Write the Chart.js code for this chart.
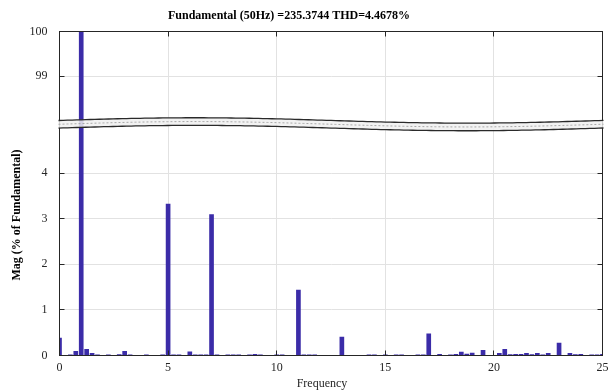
<!DOCTYPE html>
<html>
<head>
<meta charset="utf-8">
<script src="https://cdn.jsdelivr.net/npm/chart.js@4.4.0/dist/chart.umd.min.js"></script>
<style>
  html, body { margin: 0; padding: 0; background: #fff; }
</style>
</head>
<body>
<canvas id="fft" width="615" height="392"></canvas>
<script>
const chartTitle = 'Fundamental (50Hz) =235.3744 THD=4.4678%';
const xTitle = 'Frequency';
const yTitle = 'Mag (% of Fundamental)';

// harmonic order of each FFT bin
const harmonic = [
  0, 0.25, 0.5, 0.75, 1, 1.25, 1.5, 1.75, 2, 2.25, 2.5, 2.75, 3, 3.25, 3.5, 3.75,
  4, 4.25, 4.5, 4.75, 5, 5.25, 5.5, 5.75, 6, 6.25, 6.5, 6.75, 7, 7.25, 7.5, 7.75,
  8, 8.25, 8.5, 8.75, 9, 9.25, 9.5, 9.75, 10, 10.25, 10.5, 10.75, 11, 11.25, 11.5, 11.75,
  12, 12.25, 12.5, 12.75, 13, 13.25, 13.5, 13.75, 14, 14.25, 14.5, 14.75, 15, 15.25, 15.5, 15.75,
  16, 16.25, 16.5, 16.75, 17, 17.25, 17.5, 17.75, 18, 18.25, 18.5, 18.75, 19, 19.25, 19.5, 19.75,
  20, 20.25, 20.5, 20.75, 21, 21.25, 21.5, 21.75, 22, 22.25, 22.5, 22.75, 23, 23.25, 23.5, 23.75,
  24, 24.25, 24.5, 24.75, 25
];

// magnitude in % of fundamental
const mag = [
  0.39, 0.01, 0.02, 0.10, 100, 0.14, 0.055, 0.02, 0.01, 0.02, 0.01, 0.03, 0.10, 0.02, 0.01, 0.01,
  0.02, 0.01, 0.01, 0.02, 3.33, 0.02, 0.02, 0.01, 0.085, 0.02, 0.02, 0.02, 3.10, 0.02, 0.01, 0.02,
  0.02, 0.02, 0.01, 0.02, 0.035, 0.02, 0.01, 0.01, 0.02, 0.02, 0.01, 0.01, 1.44, 0.02, 0.02, 0.02,
  0.01, 0.01, 0.01, 0.01, 0.41, 0.01, 0.01, 0.01, 0.01, 0.02, 0.02, 0.01, 0.02, 0.01, 0.02, 0.02,
  0.01, 0.01, 0.02, 0.02, 0.48, 0.01, 0.035, 0.01, 0.02, 0.035, 0.08, 0.04, 0.06, 0.01, 0.12, 0.01,
  0.01, 0.055, 0.14, 0.025, 0.035, 0.035, 0.055, 0.025, 0.055, 0.02, 0.055, 0.01, 0.28, 0.01, 0.055, 0.025,
  0.035, 0.01, 0.02, 0.02, 0.035
];

const freqTicks = [0, 5, 10, 15, 20, 25];
const lowTicks = [0, 1, 2, 3, 4];
const highTicks = [99, 100];

const serif = '"Liberation Serif", "Times New Roman", serif';
const ink = '#262626';
const gridColor = '#e2e2e2';
const barColor = '#3b2ca8';

const toTicks = list => scale => { scale.ticks = list.map(v => ({ value: v })); };

const frame = {
  id: 'frame',
  afterDatasetsDraw(chart) {
    const { ctx, chartArea: a, scales } = chart;
    const x = scales.x, lo = scales.y, hi = scales.yHigh;
    ctx.save();

    // axes box
    ctx.strokeStyle = ink;
    ctx.lineWidth = 1;
    ctx.strokeRect(a.left, a.top, a.right - a.left, a.bottom - a.top);

    // ticks pointing inward, matlab style
    ctx.beginPath();
    freqTicks.forEach(v => {
      const px = Math.round(x.getPixelForValue(v) - 0.5) + 0.5;
      ctx.moveTo(px, a.bottom); ctx.lineTo(px, a.bottom - 5);
      ctx.moveTo(px, a.top); ctx.lineTo(px, a.top + 5);
    });
    [[lo, lowTicks], [hi, highTicks]].forEach(([s, list]) => {
      list.forEach(v => {
        const py = Math.round(s.getPixelForValue(v) - 0.5) + 0.5;
        ctx.moveTo(a.left, py); ctx.lineTo(a.left + 5, py);
        ctx.moveTo(a.right, py); ctx.lineTo(a.right - 5, py);
      });
    });
    ctx.stroke();

    // axis break band
    const mid = (hi.bottom + lo.top) / 2;
    const w = a.right - a.left;
    const wave = px => mid - 2.7 * Math.sin(2 * Math.PI * (px - a.left) / w);
    const n = 120;
    const xs = [];
    for (let i = 0; i <= n; i++) xs.push(a.left - 1 + (w + 2) * i / n);

    ctx.beginPath();
    xs.forEach((px, i) => i ? ctx.lineTo(px, wave(px) - 3.8) : ctx.moveTo(px, wave(px) - 3.8));
    xs.slice().reverse().forEach(px => ctx.lineTo(px, wave(px) + 3.8));
    ctx.closePath();
    ctx.fillStyle = 'rgba(240,240,240,0.85)';
    ctx.fill();

    ctx.beginPath();
    xs.forEach((px, i) => i ? ctx.lineTo(px, wave(px)) : ctx.moveTo(px, wave(px)));
    ctx.setLineDash([2, 2]);
    ctx.strokeStyle = '#a8a8a8';
    ctx.lineWidth = 1;
    ctx.stroke();
    ctx.setLineDash([]);

    ctx.strokeStyle = '#2a2a2a';
    ctx.lineWidth = 1.3;
    [-3.8, 3.8].forEach(off => {
      ctx.beginPath();
      xs.forEach((px, i) => i ? ctx.lineTo(px, wave(px) + off) : ctx.moveTo(px, wave(px) + off));
      ctx.stroke();
    });
    ctx.restore();
  },
  afterDraw(chart) {
    const { ctx } = chart;
    ctx.save();
    ctx.fillStyle = '#000';
    ctx.textAlign = 'center';
    ctx.textBaseline = 'middle';
    ctx.font = 'bold 12px ' + serif;
    ctx.fillText(chartTitle, 289, 16);
    ctx.save();
    ctx.translate(17, 215);
    ctx.rotate(-Math.PI / 2);
    ctx.fillText(yTitle, 0, 0);
    ctx.restore();
    ctx.fillStyle = ink;
    ctx.font = '12px ' + serif;
    ctx.fillText(xTitle, 322, 384);
    ctx.restore();
  }
};

const tickFont = { family: serif, size: 12 };

new Chart(document.getElementById('fft'), {
  type: 'bar',
  data: {
    datasets: [{
      data: harmonic.map((h, i) => ({ x: h, y: mag[i] })),
      backgroundColor: barColor,
      borderWidth: 0,
      categoryPercentage: 1,
      barPercentage: 0.86,
      // let the fundamental run up through the break to the top of the plot
      clip: { left: 0, right: 0, bottom: 0, top: 96 },
      xAxisID: 'x',
      yAxisID: 'y'
    }]
  },
  options: {
    responsive: false,
    animation: false,
    layout: { padding: { top: 31.5, right: 12.5, bottom: 0, left: 30 } },
    plugins: { legend: { display: false }, tooltip: { enabled: false }, title: { display: false } },
    scales: {
      x: {
        type: 'linear', min: 0, max: 25, offset: false,
        afterBuildTicks: toTicks(freqTicks),
        afterFit: s => { s.height = 36.5; },
        grid: { color: gridColor, drawTicks: false, offset: false },
        border: { display: false },
        ticks: { font: tickFont, color: ink, padding: 5, maxRotation: 0 }
      },
      yHigh: {
        type: 'linear', position: 'left', stack: 'mag', stackWeight: 89.5, weight: 3,
        min: 98, max: 100,
        afterBuildTicks: toTicks(highTicks),
        afterFit: s => { s.width = 29.5; },
        grid: { color: gridColor, drawTicks: false },
        border: { display: false },
        ticks: { font: tickFont, color: ink, padding: 12 }
      },
      yGap: {
        type: 'linear', position: 'left', stack: 'mag', stackWeight: 6.5, weight: 2,
        afterFit: s => { s.width = 29.5; },
        grid: { display: false },
        border: { display: false },
        ticks: { display: false }
      },
      y: {
        type: 'linear', position: 'left', stack: 'mag', stackWeight: 228, weight: 1,
        min: 0, max: 5,
        afterBuildTicks: toTicks(lowTicks),
        afterFit: s => { s.width = 29.5; },
        grid: { color: gridColor, drawTicks: false },
        border: { display: false },
        ticks: { font: tickFont, color: ink, padding: 12 }
      }
    }
  },
  plugins: [frame]
});
</script>
</body>
</html>
